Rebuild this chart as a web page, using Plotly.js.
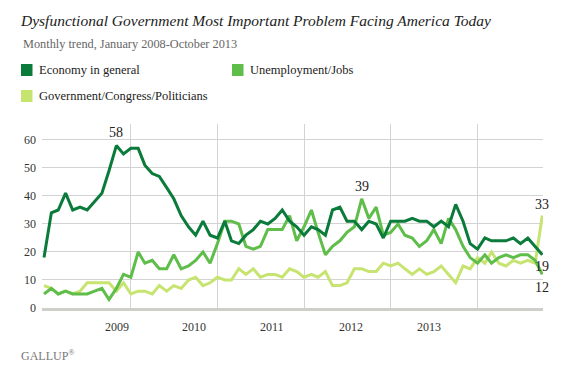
<!DOCTYPE html>
<html><head><meta charset="utf-8">
<script src="https://cdn.plot.ly/plotly-3.0.1.min.js"></script>
<style>html,body{margin:0;padding:0;background:#fff;}#chart{width:581px;height:371px;}</style>
</head><body><div id="chart"></div>
<script>
const months = ["2008-01","2008-02","2008-03","2008-04","2008-05","2008-06","2008-07","2008-08","2008-09","2008-10","2008-11","2008-12",
"2009-01","2009-02","2009-03","2009-04","2009-05","2009-06","2009-07","2009-08","2009-09","2009-10","2009-11","2009-12",
"2010-01","2010-02","2010-03","2010-04","2010-05","2010-06","2010-07","2010-08","2010-09","2010-10","2010-11","2010-12",
"2011-01","2011-02","2011-03","2011-04","2011-05","2011-06","2011-07","2011-08","2011-09","2011-10","2011-11","2011-12",
"2012-01","2012-02","2012-03","2012-04","2012-05","2012-06","2012-07","2012-08","2012-09","2012-10","2012-11","2012-12",
"2013-01","2013-02","2013-03","2013-04","2013-05","2013-06","2013-07","2013-08","2013-09","2013-10"];
const economy = [18,34,35,41,35,36,35,38,41,49, 58,55,57,57,51,48,47,43,39,33, 29,26,31,26,25,31,24,23,26,28, 31,30,32,35,31,29,26,29,28,26, 35,36,31,31,28,31,30,25,31,31, 31,32,31,31,29,31,29,37,31,23, 21,25,24,24,24,25,23,25,22,19];
const unemployment = [5,7,5,6,5,5,5,6,7,3, 7,12,11,20,16,17,14,14,19,14, 15,17,20,16,23,31,31,30,22,21, 22,28,28,28,33,24,29,35,27,19, 22,24,27,29,39,32,36,26,27,30, 26,25,22,24,28,23,32,28,22,18, 16,19,16,18,19,18,19,19,17,12];
const government = [8,7,5,6,5,6,9,9,9,9, 6,9,5,6,6,5,8,6,8,7, 10,11,8,9,11,10,10,14,12,14, 11,12,12,11,14,13,11,12,11,13, 8,8,9,14,14,13,13,16,15,16, 14,12,14,12,13,15,12,9,15,14, 18,16,20,16,15,17,16,17,16,33];
const seriesNames = ["Economy in general","Unemployment/Jobs","Government/Congress/Politicians"];
const seriesColors = ["#0a7b3a","#5fbd4a","#c6e46f"];
const yearGridDates = ["2009-01-01","2010-01-01","2011-01-01","2012-01-01","2013-01-01"];
const yearLabelDates = ["2008-11-03","2009-09-24","2010-08-19","2011-07-17","2012-06-10"];
const yearLabels = ["2009","2010","2011","2012","2013"];
const yTicks = [0,10,20,30,40,50,60];
const callouts = [
  {series:0, index:10, text:"58", yshift:13},
  {series:1, index:44, text:"39", yshift:12},
  {series:2, index:69, text:"33", yshift:11},
  {series:0, index:69, text:"19", yshift:-12},
  {series:1, index:69, text:"12", yshift:-13}
];

const allSeries = [economy, unemployment, government];
const serif = "Liberation Serif, DejaVu Serif, Georgia, serif";

// plot box in pixels
const W = 581, H = 371, L = 42, R = 543, T = 124, B = 308;
const px2paperX = x => (x - L) / (R - L);
const px2paperY = y => (B - y) / (B - T);

const traces = allSeries.map((vals, i) => ({
  type: 'scatter', mode: 'lines', x: months.map(m => m + '-01'), y: vals,
  name: seriesNames[i], line: {color: seriesColors[i], width: 3}, showlegend: false,
  hoverinfo: 'skip'
}));
const ordered = [traces[2], traces[1], traces[0]];

const annotations = [];
const shapes = [];
yearLabelDates.forEach((d, i) => annotations.push({
  x: d, xref: 'x', y: px2paperY(327), yref: 'paper', text: yearLabels[i], showarrow: false,
  xanchor: 'center', yanchor: 'middle', font: {family: serif, size: 12, color: '#333'}
}));
callouts.forEach(c => annotations.push({
  x: months[c.index] + '-01', y: allSeries[c.series][c.index], xref: 'x', yref: 'y',
  text: c.text, showarrow: false, yshift: c.yshift, xanchor: 'center', yanchor: 'middle',
  font: {family: serif, size: 14, color: '#222'}
}));
annotations.push({x: px2paperX(21), y: px2paperY(44), xref: 'paper', yref: 'paper', xanchor: 'left', yanchor: 'middle',
  text: 'Monthly trend, January 2008-October 2013', showarrow: false, font: {family: serif, size: 12.3, color: '#666'}});
const legendPos = [[21, 70], [232, 70], [21, 96]];
seriesNames.forEach((n, i) => {
  const [lx, ly] = legendPos[i];
  shapes.push({type: 'rect', xref: 'paper', yref: 'paper', x0: px2paperX(lx), x1: px2paperX(lx + 11.5),
    y0: px2paperY(ly + 6), y1: px2paperY(ly - 6), fillcolor: seriesColors[i], line: {width: 0}});
  annotations.push({x: px2paperX(lx + 16), y: px2paperY(ly), xref: 'paper', yref: 'paper', xanchor: 'left', yanchor: 'middle',
    text: n, showarrow: false, font: {family: serif, size: 12.5, color: '#222'}});
});
annotations.push({x: px2paperX(19), y: px2paperY(355), xref: 'paper', yref: 'paper', xanchor: 'left', yanchor: 'middle',
  text: 'GALLUP<sup>®</sup>', showarrow: false, font: {family: serif, size: 12, color: '#777'}});

const layout = {
  width: W, height: H, margin: {l: L, r: W - R, t: T, b: H - B, pad: 0},
  paper_bgcolor: '#fff', plot_bgcolor: '#fff',
  title: {text: '<i>Dysfunctional Government Most Important Problem Facing America Today</i>',
    font: {family: serif, size: 15.5, color: '#222'}, xref: 'container', yref: 'container',
    x: 21 / W, xanchor: 'left', y: 1 - 21 / H, yanchor: 'middle'},
  xaxis: {type: 'date', range: ['2007-12-23 14:00', '2013-10-04'], showgrid: false, zeroline: false,
    tickvals: [], showticklabels: false, showline: true, linecolor: '#cfcfca', linewidth: 2.5,
    minor: {tickvals: yearGridDates, showgrid: true, gridcolor: '#d3d3d3', gridwidth: 1, ticks: ''}},
  yaxis: {range: [0, 65.7], tickvals: yTicks, showgrid: true, gridcolor: '#d3d3d3', gridwidth: 1, zeroline: false,
    showline: false, ticks: '', ticklabelstandoff: 5, tickfont: {family: serif, size: 12, color: '#333'}},
  showlegend: false, annotations: annotations, shapes: shapes, hovermode: false
};
Plotly.newPlot('chart', ordered, layout, {staticPlot: true, displayModeBar: false});
</script></body></html>
